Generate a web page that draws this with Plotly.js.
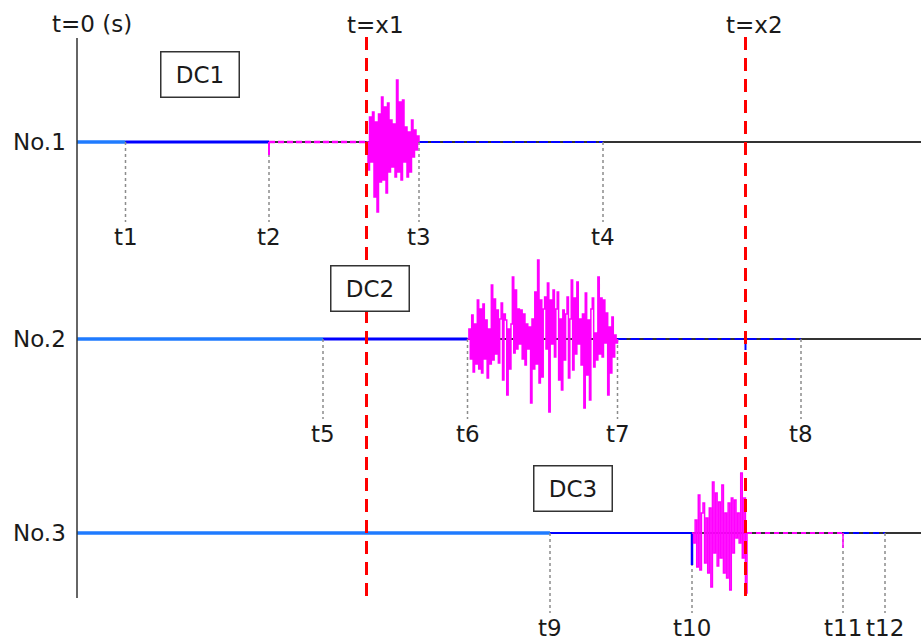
<!DOCTYPE html>
<html>
<head>
<meta charset="utf-8">
<script src="https://cdn.plot.ly/plotly-3.0.1.min.js"></script>
<style>html,body{margin:0;padding:0;background:#fff;}#chart{width:921px;height:642px;}</style>
</head>
<body>
<div id="chart"></div>
<script>
// ---- data (time in arbitrary units, amplitude in arbitrary units) ----
const channelNames = ['No.1', 'No.2', 'No.3'];
const channelLevels = [391, 194, 0];
const dcLabels = ['DC1', 'DC2', 'DC3'];
const dcTimes = [12.3, 29.3, 49.6];
const dcLevels = [459, 245, 45];
const eventLabels = ['t1','t2','t3','t4','t5','t6','t7','t8','t9','t10','t11','t12'];
const eventTimes = [4.85, 19.2, 34.2, 52.6, 24.6, 39.05, 54.05, 72.4, 47.3, 61.5, 76.6, 80.8];
const eventRow = [0,0,0,0,1,1,1,1,2,2,2,2];
const markerLabels = ['t=x1', 't=x2'];
const markerTimes = [28.95, 66.85];
const burst1 = [0, -28, 25, -20, 30, -55, 20, -70, 28, -40, 45, -38, 35, -51, 39, -30, 22, -25, 18, -35,
  62, -30, 40, -38, 42, -20, 15, -35, 10, -30, 22, -15, 12, -8, 6, 0];
const burst2 = [0, 10, -20, 24, -33, 15, -25, 39, -30, 30, -34, 35, -20, 19, -39, 10,
  -25, 54, -21, 40, -15, 29, -24, 20, 36, -41, 25, 19, -56, 10, -30, 15,
  62, -14, 49, -10, 30, -5, 29, -20, 25, -26, 15, -10, 12, -64, 20, -30,
  47, -25, 79, -44, 39, -38, 30, 42, -10, 56, -73, 39, -5, 49, -18, 30, 47, -41,
  20, -51, 29, -21, 25, 42, -39, 20, 59, -31, 41, -15, 57, -5, 20, -26,
  25, -69, 46, -36, 19, -61, 30, 41, -28, 6, -21, 62, -15, 41, -18, 39, -4,
  26, -56, 12, -34, 22, -18, 4, -4, 0];
const burst3 = [0, -10, 13, -34, 38, -37, 20, 30, -30, 15, -40, 25, -54, 51, -20, 40, -33, 31, -25, 48,
  -40, 20, -45, 30, -57, 35, -20, 33, -5, 20, -10, 60, -25, 35, -60, 0];
const burst3End = 67.0;
const spikeAmp = {t2: -13, t10: -32, x2row2: -11, t11: -15};

// ---- styles ----
const LIGHTBLUE = '#1f7bff', BLUE = '#0000ff', MAGENTA = '#ff00ff', BASE = '#333333', RED = '#ff0000';
const traces = [];
function seg(x0, x1, y, color, width, dash) {
  traces.push({type: 'scatter', mode: 'lines', x: [x0, x1], y: [y, y], hoverinfo: 'skip',
    line: {color: color, width: width, dash: dash || 'solid'}});
}
function vline(x, y0, y1, color, width, dash) {
  traces.push({type: 'scatter', mode: 'lines', x: [x, x], y: [y0, y1], hoverinfo: 'skip',
    line: {color: color, width: width, dash: dash || 'solid'}});
}
function burst(vals, t0, t1, level) {
  const n = vals.length;
  traces.push({type: 'scatter', mode: 'lines', hoverinfo: 'skip',
    x: vals.map((v, i) => t0 + i * (t1 - t0) / (n - 1)),
    y: vals.map(v => level + v), line: {color: MAGENTA, width: 1.5, shape: 'hv'}});
}
const T = eventTimes;
const L = channelLevels;
// baselines
L.forEach(l => seg(0, 90, l, BASE, 2));
// row 1
seg(0, T[0], L[0], LIGHTBLUE, 3.5);
seg(T[0], T[1], L[0], BLUE, 3);
seg(T[1], markerTimes[0], L[0], MAGENTA, 2.5, '6px,3px');
seg(T[2], T[3], L[0], BLUE, 2, '9px,3px');
// row 2
seg(0, T[4], L[1], LIGHTBLUE, 3.5);
seg(T[4], T[5], L[1], BLUE, 3);
seg(T[6], T[7], L[1], BLUE, 2, '9px,4px');
// row 3
seg(0, T[8], L[2], LIGHTBLUE, 3.5);
seg(T[8], T[9], L[2], BLUE, 2);
seg(burst3End, T[10], L[2], MAGENTA, 2, '5px,4px');
seg(T[10], T[11], L[2], BLUE, 2, '6px,4px');
// event dotted lines
eventTimes.forEach((t, i) => vline(t, L[eventRow[i]], L[eventRow[i]] - 80, '#8c8c8c', 1.5, 'dot'));
// small spikes
vline(T[1], L[0], L[0] + spikeAmp.t2, MAGENTA, 2);
vline(T[9], L[2], L[2] + spikeAmp.t10, BLUE, 2.5);
vline(markerTimes[1], L[1], L[1] + spikeAmp.x2row2, BLUE, 2);
vline(T[10], L[2], L[2] + spikeAmp.t11, MAGENTA, 1.5);
// bursts
burst(burst1, markerTimes[0], T[2], L[0]);
burst(burst2, T[5], T[6], L[1]);
burst(burst3, T[9], burst3End, L[2]);
// time-zero axis
vline(0, 495, -65, BASE, 1.5);
// red markers
markerTimes.forEach(m => vline(m, 496, -71, RED, 3, '13px,8px'));

// ---- annotations ----
const FONT = {family: 'DejaVu Sans, Verdana, sans-serif', size: 23, color: '#1a1a1a'};
const ann = [];
channelNames.forEach((n, i) => ann.push({x: -0.9, y: L[i], xref: 'x', yref: 'y', text: n,
  showarrow: false, xanchor: 'right', yanchor: 'middle', font: FONT}));
ann.push({x: 1.5, y: 509, xref: 'x', yref: 'y', text: 't=0 (s)', showarrow: false,
  xanchor: 'center', yanchor: 'middle', font: FONT});
markerLabels.forEach((m, i) => ann.push({x: markerTimes[i] + 0.9, y: 508, xref: 'x', yref: 'y', text: m,
  showarrow: false, xanchor: 'center', yanchor: 'middle', font: FONT}));
eventLabels.forEach((e, i) => ann.push({x: eventTimes[i], y: L[eventRow[i]] - 95, xref: 'x', yref: 'y',
  text: e, showarrow: false, xanchor: 'center', yanchor: 'middle', font: FONT}));
dcLabels.forEach((d, i) => ann.push({x: dcTimes[i], y: dcLevels[i], xref: 'x', yref: 'y', text: d,
  showarrow: false, xanchor: 'center', yanchor: 'middle', font: FONT,
  width: 77, height: 44, borderpad: 0, borderwidth: 1.5, bordercolor: '#333', bgcolor: '#fff'}));

const layout = {
  width: 921, height: 642,
  margin: {l: 0, r: 0, t: 0, b: 0},
  paper_bgcolor: '#fff', plot_bgcolor: '#fff',
  showlegend: false,
  xaxis: {range: [-7.7, 84.4], visible: false, fixedrange: true},
  yaxis: {range: [-109, 533], visible: false, fixedrange: true},
  annotations: ann
};
Plotly.newPlot('chart', traces, layout, {displayModeBar: false, staticPlot: true});
</script>
</body>
</html>
